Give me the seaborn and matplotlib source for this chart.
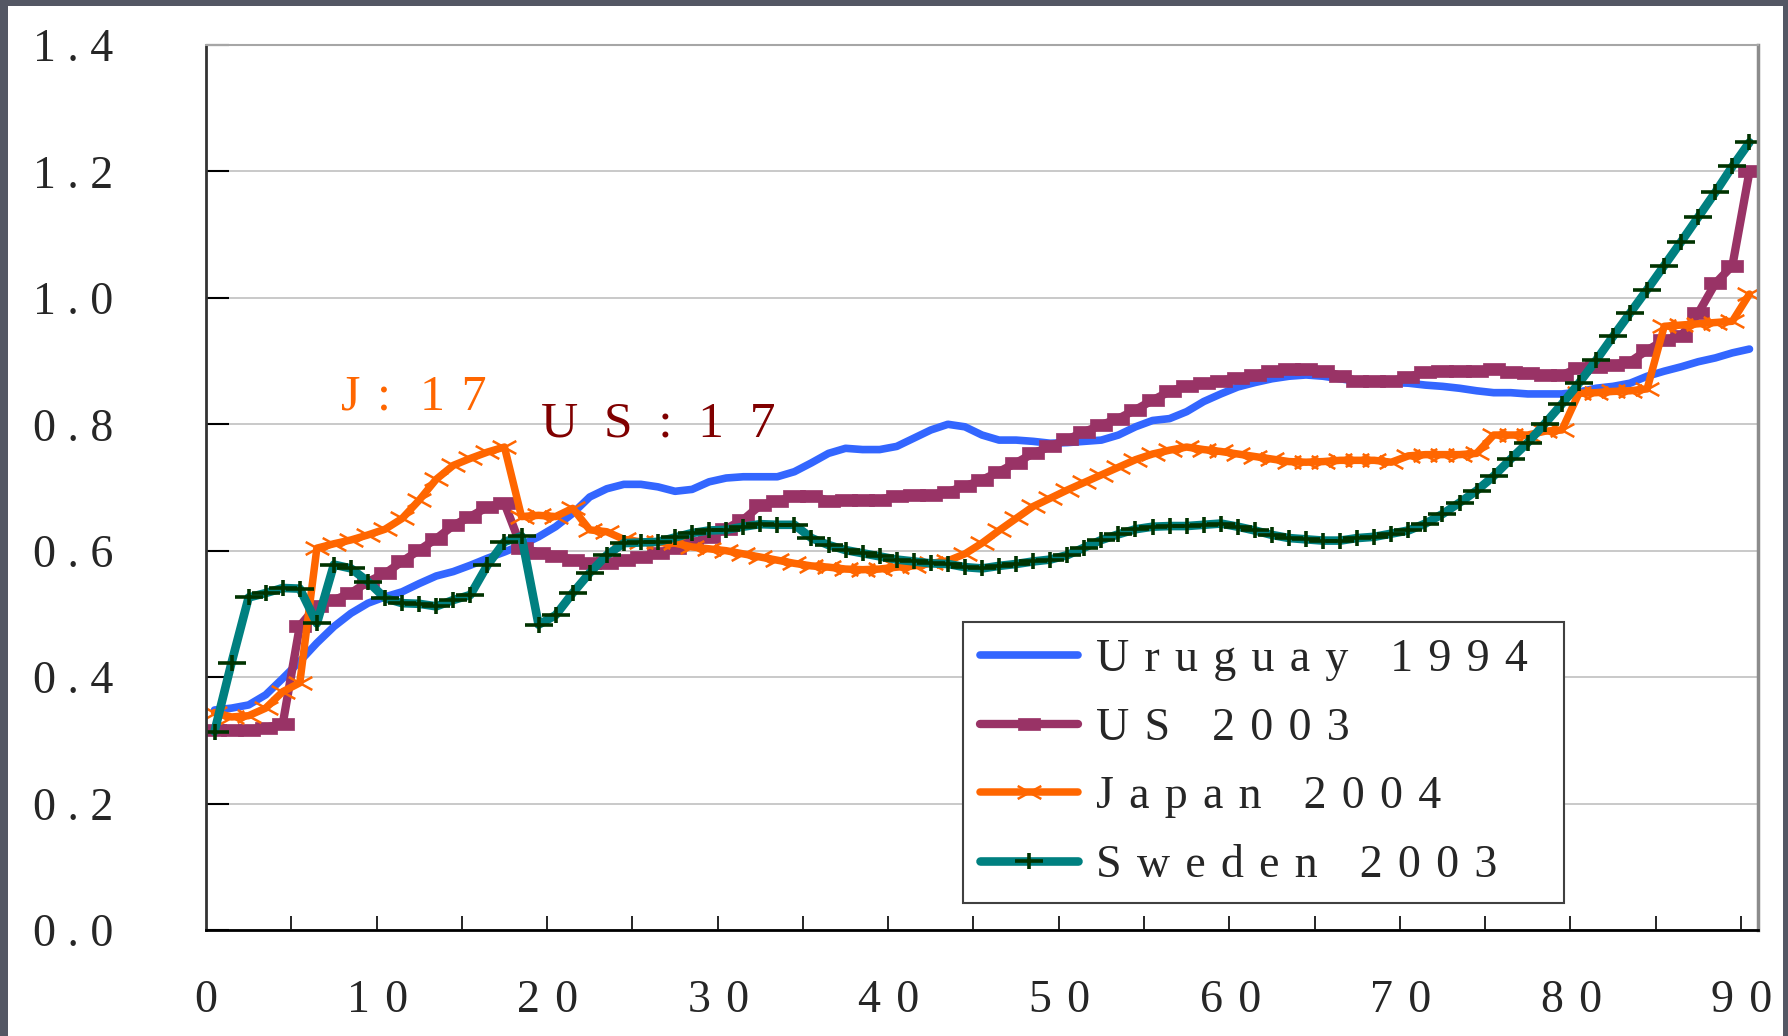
import matplotlib
matplotlib.use("Agg")
import matplotlib.pyplot as plt
import seaborn as sns
import numpy as np
from matplotlib.path import Path
from matplotlib.patches import Rectangle

# Values (age 0..90)
ages = list(range(91))
uruguay_1994 = [0.348, 0.351, 0.356, 0.372, 0.398, 0.425, 0.454, 0.480, 0.501, 0.517,
                0.527, 0.535, 0.548, 0.560, 0.567, 0.577, 0.588, 0.598, 0.609, 0.622,
                0.638, 0.659, 0.685, 0.698, 0.705, 0.705, 0.701, 0.694, 0.697, 0.709,
                0.715, 0.717, 0.717, 0.717, 0.725, 0.739, 0.754, 0.762, 0.760, 0.760,
                0.765, 0.778, 0.791, 0.800, 0.796, 0.783, 0.775, 0.775, 0.773, 0.770,
                0.771, 0.773, 0.775, 0.783, 0.796, 0.806, 0.809, 0.820, 0.836, 0.848,
                0.859, 0.866, 0.872, 0.876, 0.878, 0.876, 0.872, 0.868, 0.866, 0.866,
                0.865, 0.862, 0.860, 0.857, 0.853, 0.850, 0.850, 0.848, 0.848, 0.848,
                0.851, 0.857, 0.860, 0.865, 0.876, 0.884, 0.891, 0.899, 0.905, 0.913,
                0.919]
us_2003 = [0.316, 0.316, 0.317, 0.320, 0.326, 0.481, 0.513, 0.522, 0.533, 0.551,
           0.564, 0.583, 0.601, 0.619, 0.640, 0.654, 0.669, 0.675, 0.605, 0.597,
           0.592, 0.586, 0.580, 0.580, 0.585, 0.590, 0.596, 0.604, 0.612, 0.622,
           0.635, 0.649, 0.672, 0.678, 0.686, 0.687, 0.679, 0.680, 0.681, 0.681,
           0.686, 0.688, 0.688, 0.693, 0.702, 0.712, 0.725, 0.739, 0.754, 0.765,
           0.776, 0.788, 0.799, 0.809, 0.823, 0.838, 0.852, 0.860, 0.865, 0.869,
           0.873, 0.878, 0.885, 0.887, 0.887, 0.884, 0.877, 0.868, 0.868, 0.868,
           0.875, 0.882, 0.885, 0.885, 0.885, 0.887, 0.882, 0.881, 0.878, 0.878,
           0.889, 0.891, 0.894, 0.899, 0.917, 0.933, 0.940, 0.976, 1.023, 1.051,
           1.200]
japan_2004 = [0.344, 0.337, 0.339, 0.351, 0.377, 0.391, 0.604, 0.611, 0.617, 0.625,
              0.634, 0.651, 0.680, 0.713, 0.735, 0.746, 0.756, 0.764, 0.654, 0.656,
              0.654, 0.667, 0.633, 0.630, 0.618, 0.614, 0.613, 0.612, 0.606, 0.603,
              0.600, 0.595, 0.590, 0.585, 0.580, 0.576, 0.574, 0.571, 0.570, 0.571,
              0.574, 0.576, 0.580, 0.584, 0.595, 0.612, 0.632, 0.651, 0.670, 0.683,
              0.696, 0.708, 0.720, 0.732, 0.744, 0.753, 0.759, 0.764, 0.760, 0.757,
              0.753, 0.749, 0.745, 0.741, 0.740, 0.741, 0.743, 0.743, 0.743, 0.740,
              0.750, 0.752, 0.752, 0.752, 0.754, 0.783, 0.783, 0.783, 0.789, 0.791,
              0.849, 0.850, 0.852, 0.853, 0.856, 0.955, 0.957, 0.959, 0.961, 0.963,
              1.006]
sweden_2003 = [0.314, 0.423, 0.526, 0.533, 0.541, 0.540, 0.485, 0.578, 0.572, 0.551,
               0.525, 0.517, 0.516, 0.512, 0.522, 0.530, 0.577, 0.614, 0.623, 0.483,
               0.498, 0.533, 0.565, 0.593, 0.612, 0.613, 0.614, 0.621, 0.628, 0.632,
               0.633, 0.638, 0.642, 0.641, 0.641, 0.620, 0.609, 0.601, 0.596, 0.591,
               0.586, 0.583, 0.580, 0.579, 0.574, 0.572, 0.576, 0.579, 0.583, 0.586,
               0.593, 0.605, 0.617, 0.626, 0.634, 0.638, 0.639, 0.639, 0.641, 0.643,
               0.638, 0.632, 0.625, 0.620, 0.618, 0.616, 0.616, 0.620, 0.622, 0.627,
               0.632, 0.643, 0.658, 0.676, 0.695, 0.718, 0.745, 0.771, 0.801, 0.832,
               0.865, 0.901, 0.939, 0.976, 1.013, 1.051, 1.089, 1.128, 1.167, 1.208,
               1.246]
series_names = ["Uruguay 1994", "US 2003", "Japan 2004", "Sweden 2003"]
y_ticks = [0.0, 0.2, 0.4, 0.6, 0.8, 1.0, 1.2, 1.4]
x_labels = [0, 10, 20, 30, 40, 50, 60, 70, 80, 90]

sns.set_style("white")
plt.rcParams['font.family'] = ['Liberation Serif', 'DejaVu Serif']

SEP = "\u2004"  # letter spacing like the original


def spaced(s, sep=SEP):
    return sep.join(s)


# stretched markers (the original ones are wider than tall)
seg = [Path.MOVETO, Path.LINETO, Path.MOVETO, Path.LINETO]
wide_plus = Path([(-1, 0), (1, 0), (0, -0.57), (0, 0.57)], seg)
wide_x = Path([(-1, -0.55), (1, 0.55), (-1, 0.55), (1, -0.55)], seg)
wide_sq = Path([(-1, -0.55), (1, -0.55), (1, 0.55), (-1, 0.55), (-1, -0.55)],
               [Path.MOVETO, Path.LINETO, Path.LINETO, Path.LINETO, Path.CLOSEPOLY])

fig = plt.figure(figsize=(17.88, 10.36), dpi=100)
fig.patch.set_facecolor('#545764')
fig.add_artist(Rectangle((8 / 1788, 0), 1775 / 1788, 1030 / 1036, transform=fig.transFigure,
                         facecolor='white', edgecolor='none', zorder=-10))
ax = fig.add_axes([0.11521, 0.10232, 0.86801, 0.85424])

line_kw = dict(errorbar=None, solid_joinstyle='round', solid_capstyle='round')
sns.lineplot(x=ages, y=uruguay_1994, ax=ax, color='#3366FF',
             label=series_names[0], markeredgewidth=0, markeredgecolor='#3366FF', **line_kw)
sns.lineplot(x=ages, y=us_2003, ax=ax, color='#993366', marker=wide_sq,
             markersize=16.5, markerfacecolor='#993366', markeredgecolor='#993366',
             markeredgewidth=0.5, label=series_names[1], **line_kw)
sns.lineplot(x=ages, y=japan_2004, ax=ax, color='#FF6600', marker=wide_x,
             markersize=17, markerfacecolor='none', markeredgecolor='#FF6600',
             markeredgewidth=1.8, label=series_names[2], **line_kw)
sns.lineplot(x=ages, y=sweden_2003, ax=ax, color='#008080', marker=wide_plus,
             markersize=20, markerfacecolor='none', markeredgecolor='#003300',
             markeredgewidth=2.6, label=series_names[3], **line_kw)
for line, lw in zip(ax.lines, [5.5, 6.0, 5.4, 6.2]):
    line.set_linewidth(lw)

# annotations
ax.text(7.42, 0.823, "J" + SEP + ":" + SEP + " 1" + SEP + "7", color='#FF6600',
        fontsize=36, ha='left', va='baseline')
ax.text(19.15, 0.780, "\u2002".join("US:17"), color='#800000',
        fontsize=37, ha='left', va='baseline')

# axes
ax.set_xlim(-0.5, 90.5)
ax.set_ylim(0, 1.4)
ax.set_xticks(x_labels)
ax.set_xticklabels([spaced(str(v)) + SEP for v in x_labels])
ax.set_xticks(np.arange(4.5, 90, 5), minor=True)
ax.tick_params(axis='x', which='major', length=0, pad=36, labelsize=33, bottom=True)
ax.tick_params(axis='x', which='minor', direction='in', length=10, width=1.2,
               color='black', bottom=True)
ax.set_yticks(y_ticks)
ax.set_yticklabels([spaced(f"{v:.1f}", "\u2005") for v in y_ticks])
ax.tick_params(axis='y', direction='in', length=16.5, width=1.5, pad=67, labelsize=33,
               left=True, color='black')
ax.set_xlabel("")
ax.set_ylabel("")
ax.set_axisbelow(True)
ax.yaxis.grid(True, color='#C0C0C0', linewidth=1.2)
ax.xaxis.grid(False)

ax.spines['left'].set_color('#333333')
ax.spines['left'].set_linewidth(2)
ax.spines['bottom'].set_color('black')
ax.spines['bottom'].set_linewidth(2)
ax.spines['top'].set_color('#A6A6A6')
ax.spines['top'].set_linewidth(1.5)
ax.spines['right'].set_color('#8C8C8C')
ax.spines['right'].set_linewidth(2.5)

handles, labels = ax.get_legend_handles_labels()
leg = ax.legend(handles, [spaced(n) + SEP + "\u200a" for n in series_names], loc='upper left',
                bbox_to_anchor=(0.4878, 0.348), borderaxespad=0, fontsize=33,
                frameon=True, fancybox=False, framealpha=1, edgecolor='#404040',
                borderpad=0.36, handlelength=2.15, handletextpad=0.4, labelspacing=0.57,
                numpoints=1)
leg.get_frame().set_linewidth(1.5)

fig.savefig("out.png", dpi=100)
